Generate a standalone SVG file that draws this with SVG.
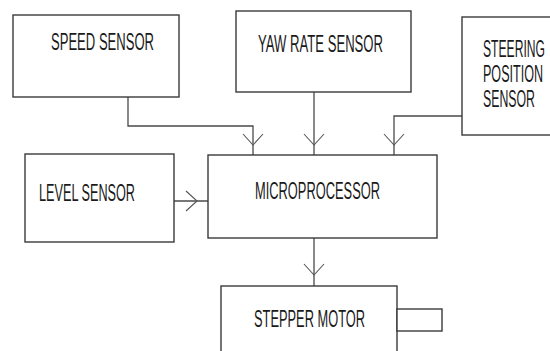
<svg xmlns="http://www.w3.org/2000/svg" xmlns:xlink="http://www.w3.org/1999/xlink" width="550" height="351" viewBox="0 0 550 351">
<style>
.box{fill:#fff;stroke:#3a3a3a;stroke-width:1.4}
.ln{fill:none;stroke:#4a4a4a;stroke-width:1.3}
.ah{fill:none;stroke:#555;stroke-width:1.1}
.t{font-family:"Liberation Sans",Arial,sans-serif;font-size:23px;fill:#1a1a1a}
</style>
<defs>
<path id="ahd" class="ah" d="M-10,-11 L0,0 L10,-11"/>
</defs>
<rect width="550" height="351" fill="#fff"/>
<g id="connectors">
<path class="ln" d="M128,97 V126 H253 V155"/>
<path class="ln" d="M314,92 V155"/>
<path class="ln" d="M462,116 H394 V155"/>
<path class="ln" d="M174,201 H208"/>
<path class="ln" d="M314,238 V286"/>
<use xlink:href="#ahd" transform="translate(253,145)"/>
<use xlink:href="#ahd" transform="translate(314,145)"/>
<use xlink:href="#ahd" transform="translate(394,145)"/>
<use xlink:href="#ahd" transform="translate(197,201) rotate(-90)"/>
<use xlink:href="#ahd" transform="translate(314,275)"/>
</g>
<g id="speed">
<rect class="box" x="13" y="15" width="166" height="82"/>
<text class="t" x="51" y="50" textLength="103" lengthAdjust="spacingAndGlyphs">SPEED SENSOR</text>
</g>
<g id="yaw">
<rect class="box" x="236" y="11" width="175" height="81"/>
<text class="t" x="258" y="52" textLength="125" lengthAdjust="spacingAndGlyphs">YAW RATE SENSOR</text>
</g>
<g id="steering">
<rect class="box" x="462" y="17" width="89" height="118"/>
<g transform="translate(483,0) scale(0.55,1)">
<text class="t" x="0" y="57" textLength="112.7" lengthAdjust="spacingAndGlyphs">STEERING</text>
<text class="t" x="0" y="82" textLength="109" lengthAdjust="spacingAndGlyphs">POSITION</text>
<text class="t" x="0" y="107" textLength="94.5" lengthAdjust="spacingAndGlyphs">SENSOR</text>
</g>
</g>
<g id="level">
<rect class="box" x="25" y="154" width="149" height="88"/>
<text class="t" x="39" y="201" textLength="96" lengthAdjust="spacingAndGlyphs">LEVEL SENSOR</text>
</g>
<g id="micro">
<rect class="box" x="208" y="155" width="229" height="83"/>
<text class="t" x="255" y="199" textLength="125" lengthAdjust="spacingAndGlyphs">MICROPROCESSOR</text>
</g>
<g id="stepper">
<rect class="box" x="221" y="286" width="176" height="80"/>
<rect class="box" x="397" y="309" width="45" height="22"/>
<text class="t" x="254" y="327" textLength="111" lengthAdjust="spacingAndGlyphs">STEPPER MOTOR</text>
</g>
</svg>
